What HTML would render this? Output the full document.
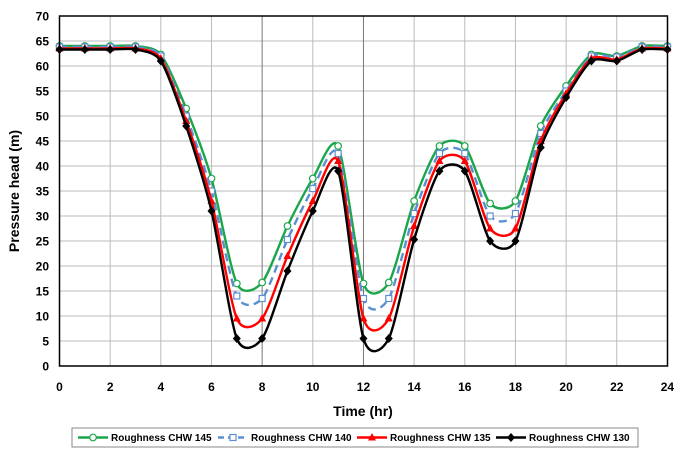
<!DOCTYPE html>
<html><head><meta charset="utf-8"><style>
html,body{margin:0;padding:0;background:#fff;}
svg text{font-family:"Liberation Sans",sans-serif;font-weight:bold;}
</style></head><body>
<svg id="c" width="675" height="453" viewBox="0 0 675 453" xmlns="http://www.w3.org/2000/svg">
<rect width="675" height="453" fill="#fff"/>
<g id="grid"></g>
<g id="series"></g>
<rect x="59.5" y="16" width="608" height="350" fill="none" stroke="#000" stroke-width="1.5"/>
<g id="labels" font-size="12" fill="#000"></g>
<text x="363" y="416" font-size="14" text-anchor="middle">Time (hr)</text>
<text transform="translate(19,191) rotate(-90)" font-size="14" text-anchor="middle">Pressure head (m)</text>
<rect x="72" y="428" width="566" height="19" fill="#fff" stroke="#888" stroke-width="1"/>
<g id="legend" font-size="10"></g>
</svg>
<script>
var X=function(t){return 59.5+25.33*t},Y=function(v){return 366-5*v};
var g=document.getElementById('grid'),lb=document.getElementById('labels'),ns='http://www.w3.org/2000/svg';
function el(p,n,a,txt){var e=document.createElementNS(ns,n);for(var k in a)e.setAttribute(k,a[k]);if(txt!=null)e.textContent=txt;p.appendChild(e);return e;}
for(var v=0;v<=70;v+=5){el(g,'line',{x1:59.5,x2:667.5,y1:Y(v),y2:Y(v),stroke:'#bbb','stroke-width':1});el(lb,'text',{x:49,y:Y(v)+4.5,'text-anchor':'end'},v);}
for(var t=0;t<=24;t+=2){var d=(t==8||t==12);el(g,'line',{x1:X(t),x2:X(t),y1:16,y2:366,stroke:d?'#777':'#bbb','stroke-width':1});el(lb,'text',{x:X(t),y:391,'text-anchor':'middle'},t);}
var S=[
{c:'#1aa64a',dash:'',m:'circle',d:[64,64,64,64,62.3,51.5,37.5,16.5,16.7,28,37.5,44,16.5,16.7,33,44,44,32.5,33,48,56,62.3,62,64,64]},
{c:'#5b8fd0',dash:'8,5',m:'square',d:[63.8,63.8,63.8,63.8,62,50,35,14,13.5,25.3,35.5,42.5,13.5,13.5,30.5,42.5,42.5,30,30.5,46.5,55,62,61.8,63.8,63.8]},
{c:'#f00',dash:'',m:'tri',d:[63.5,63.5,63.5,63.5,61.5,49,33,9.5,9.5,22,33,41,9.5,9.5,28,41,41,27.5,27.5,45,54.5,61.5,61.3,63.5,63.5]},
{c:'#000',dash:'',m:'diamond',d:[63.3,63.3,63.3,63.3,61,48,31,5.5,5.5,19,31,39,5.5,5.5,25.3,39,39,25,25,43.7,53.7,61,61,63.3,63.3]}];
var sg=document.getElementById('series');
function marker(p,m,x,y,c){
 if(m=='circle')el(p,'circle',{cx:x,cy:y,r:3.3,fill:'#fff',stroke:c,'stroke-width':1.2});
 else if(m=='square')el(p,'rect',{x:x-3,y:y-3,width:6,height:6,fill:'#fff',stroke:c,'stroke-width':1.2});
 else if(m=='tri')el(p,'polygon',{points:(x)+','+(y-4.5)+' '+(x-4)+','+(y+3)+' '+(x+4)+','+(y+3),fill:c});
 else el(p,'polygon',{points:x+','+(y-4.5)+' '+(x+4)+','+y+' '+x+','+(y+4.5)+' '+(x-4)+','+y,fill:c});
}
var K=8;
S.forEach(function(s){
 var P=s.d.map(function(v,i){return [X(i),Y(v)]});
 var d='M'+P[0][0]+','+P[0][1];
 for(var i=0;i<P.length-1;i++){var p0=P[Math.max(0,i-1)],p1=P[i],p2=P[i+1],p3=P[Math.min(P.length-1,i+2)];
  var c1=[p1[0]+(p2[0]-p0[0])/K,p1[1]+(p2[1]-p0[1])/K],c2=[p2[0]-(p3[0]-p1[0])/K,p2[1]-(p3[1]-p1[1])/K];
  d+=' C'+c1+' '+c2+' '+p2;}
 el(sg,'path',{d:d,fill:'none',stroke:s.c,'stroke-width':2.4,'stroke-dasharray':s.dash});
 P.forEach(function(p){marker(sg,s.m,p[0],p[1],s.c)});
});
var lg=document.getElementById('legend'),lx=[78,218,357,496];
S.forEach(function(s,i){var x=lx[i],y=437.5;
 el(lg,'line',{x1:x,x2:x+30,y1:y,y2:y,stroke:s.c,'stroke-width':2.4,'stroke-dasharray':s.dash?'6,4':''});
 marker(lg,s.m,x+15,y,s.c);
 el(lg,'text',{x:x+33,y:y+3.5},'Roughness CHW '+[145,140,135,130][i]);
});
</script>
</body></html>
